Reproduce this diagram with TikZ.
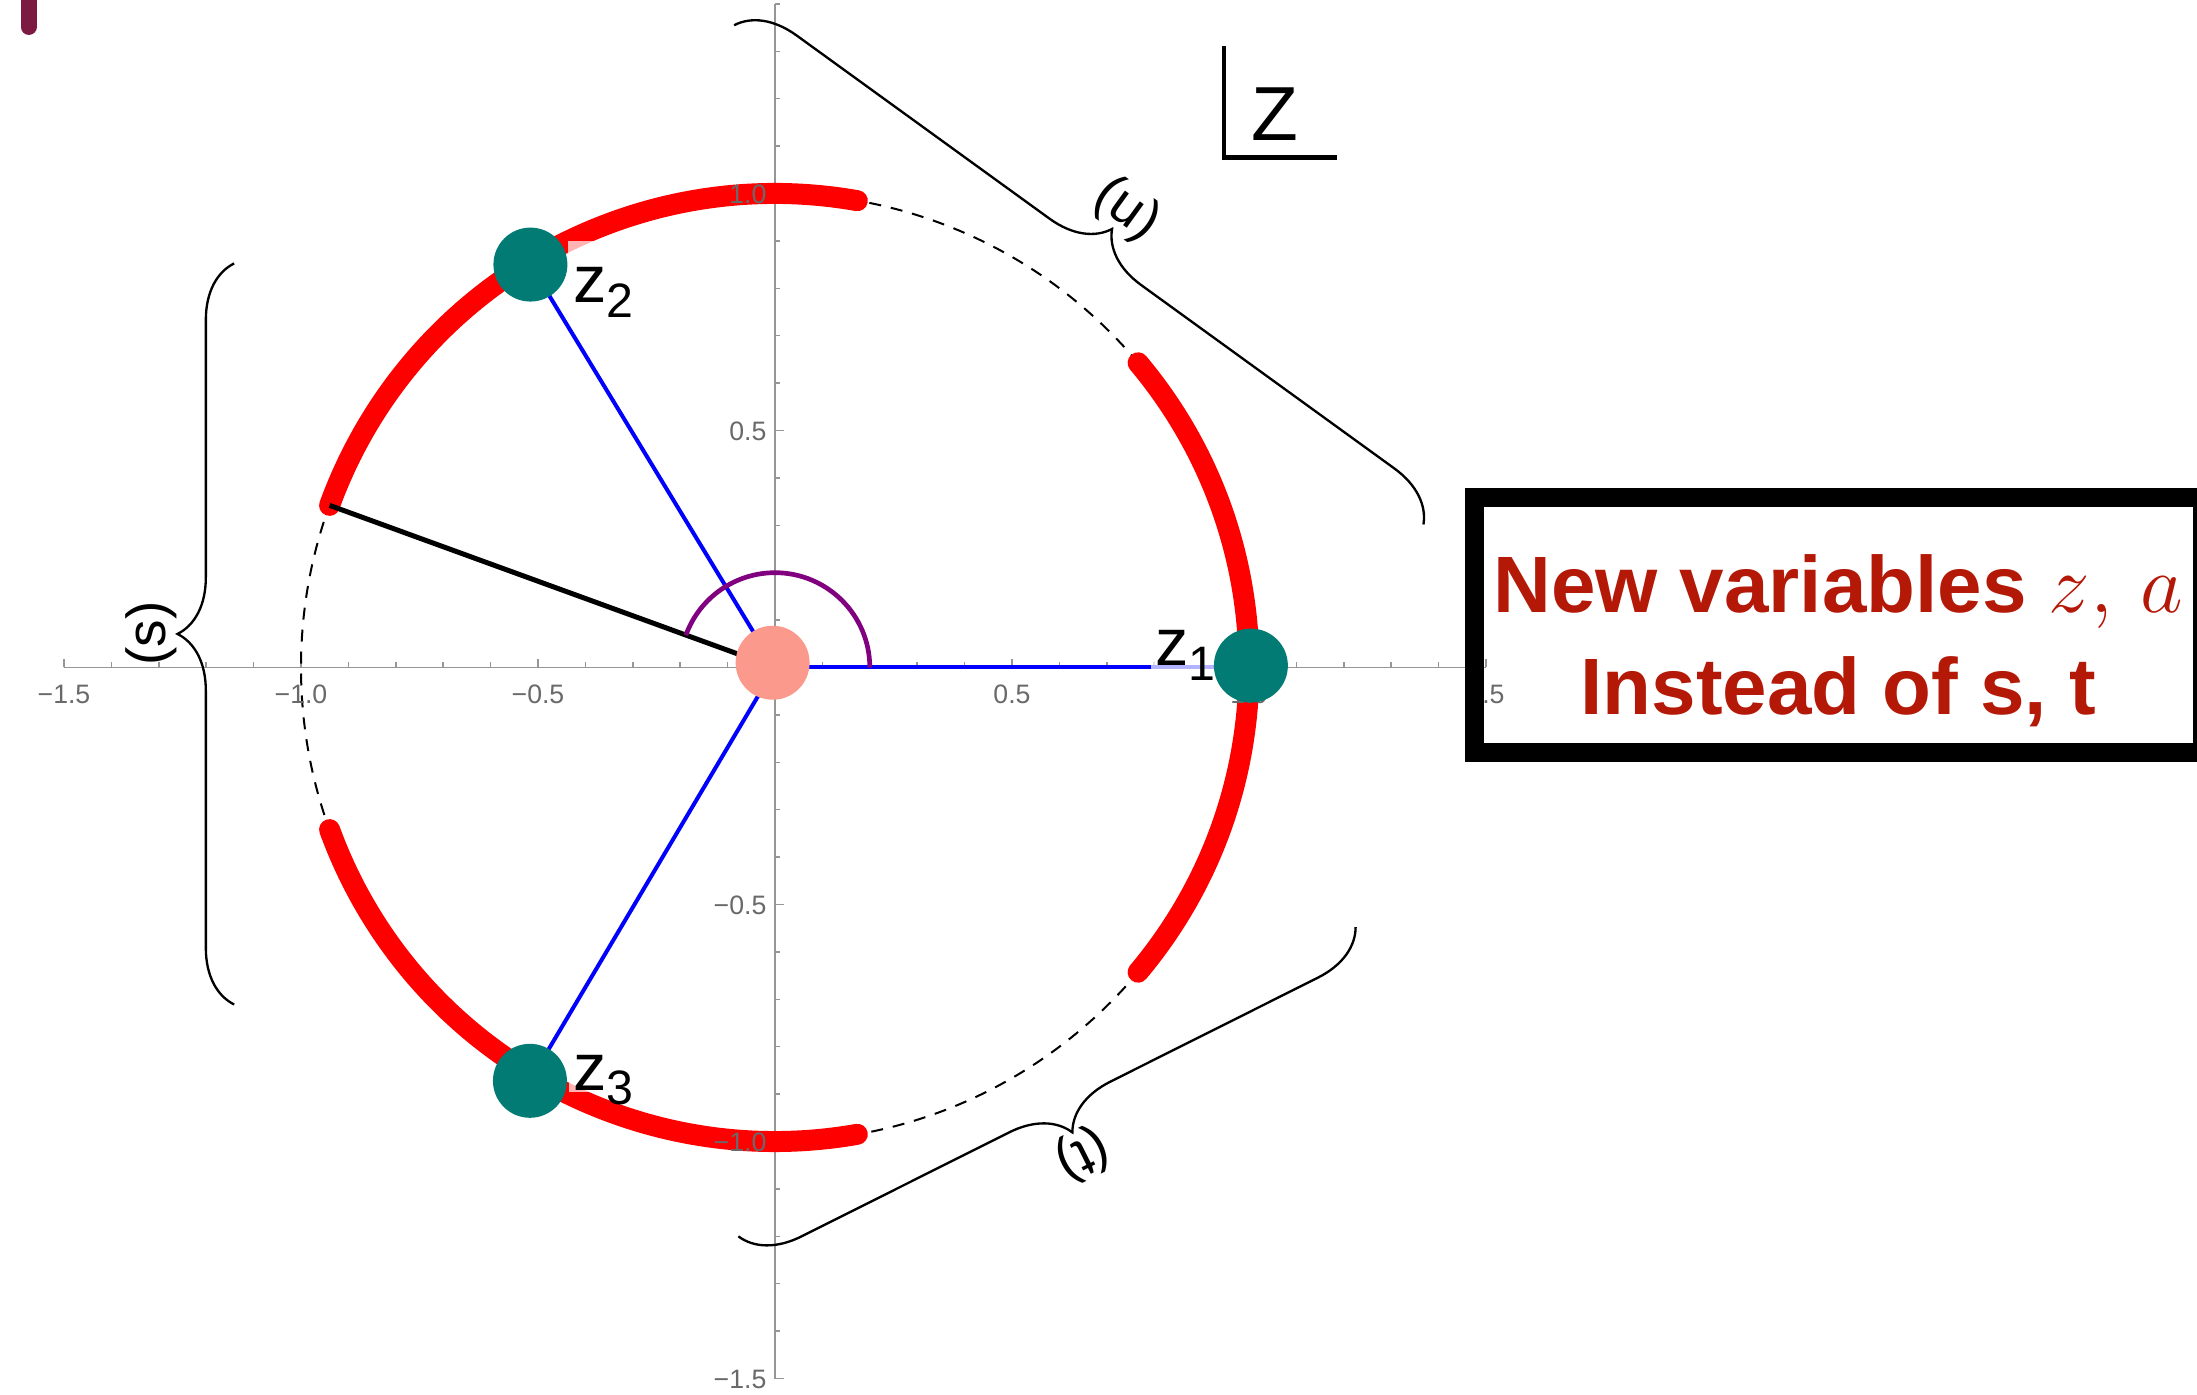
\documentclass[tikz,border=0pt]{standalone}
\usepackage{fontspec}
\setmainfont{Liberation Sans}
\usetikzlibrary{decorations.pathreplacing}
\definecolor{plotred}{RGB}{255,0,0}
\definecolor{tealdot}{RGB}{1,123,115}
\definecolor{pinkdot}{RGB}{251,153,140}
\definecolor{purp}{RGB}{128,0,128}
\definecolor{maroonmark}{RGB}{124,26,66}
\definecolor{boxred}{RGB}{180,25,8}
\definecolor{axisgray}{RGB}{150,150,150}
\definecolor{labgray}{RGB}{105,105,105}
\pgfdeclarelayer{bg}
\pgfdeclarelayer{mid}
\pgfsetlayers{bg,mid,main}
\begin{document}
\begin{tikzpicture}[x=5cm,y=5cm,
  axisline/.style={axisgray, line width=0.55pt},
  tickmark/.style={axisgray, line width=0.45pt},
  ticklab/.style={labgray, inner sep=0pt, font=\fontsize{8}{8}\selectfont},
  redarc/.style={plotred, line width=6.3pt, line cap=round},
  spoke/.style={blue, line width=1.2pt},
  dot/.style={circle, minimum size=22.2pt, inner sep=0pt},
  zlab/.style={anchor=base west, xshift=-1.5pt, fill=white, fill opacity=0.7, text opacity=1, inner xsep=1.5pt, inner ysep=0.5pt, font=\fontsize{20}{20}\selectfont},
  bracedeco/.style={decorate, decoration={brace, amplitude=17pt}, line width=0.7pt},
  bracelab/.style={inner sep=0pt, font=\fontsize{16.5}{16.5}\selectfont},
  boxtext/.style={boxred, inner sep=0pt, anchor=base, font=\fontsize{24}{24}\selectfont\bfseries},
]
\coordinate (BL) at (-1.63502,-1.53481);
\coordinate (TR) at (3.0,1.40823);
\useasboundingbox (BL) rectangle (TR);

% ---- dots (main layer, defined first so lines can refer to them)
\node[dot, fill=pinkdot] (Odot) at (-0.005,0.01) {};
\node[dot, fill=tealdot] (z1dot) at (1.004,0.004) {};
\node[dot, fill=tealdot] (z2dot) at (-0.516,0.850) {};
\node[dot, fill=tealdot] (z3dot) at (-0.517,-0.872) {};
\coordinate (O) at (0,0);
\coordinate (A160) at (160:1);

\begin{pgfonlayer}{bg}
\fill[white] (BL) rectangle (TR);
% axes
\draw[axisline] (-1.5,0) -- (1.5,0);
\draw[axisline] (0,-1.5) -- (0,1.40);
\foreach \i in {-15,...,15} \draw[tickmark] (\i/10,0) -- ++(0pt,1.6pt);
\foreach \x in {-1.5,-1,-0.5,0.5,1,1.5} \draw[tickmark] (\x,0) -- ++(0pt,2.6pt);
\foreach \i in {-15,...,14} \draw[tickmark] (0,\i/10) -- ++(1.6pt,0pt);
\foreach \y in {-1.5,-1,-0.5,0.5,1} \draw[tickmark] (0,\y) -- ++(2.6pt,0pt);
% unit circle
\draw[black, line width=0.6pt, dash pattern=on 3.6pt off 3pt] (O) circle[radius=1];
% red arcs
\draw[redarc] (80:1) arc[start angle=80, end angle=160, radius=1];
\draw[redarc] (-40:1) arc[start angle=-40, end angle=40, radius=1];
\draw[redarc] (200:1) arc[start angle=200, end angle=280, radius=1];
% tick labels (over the arcs, under the dots)
\foreach \x/\t [count=\k] in {-1.5/−1.5,-1/−1.0,-0.5/−0.5,0.5/0.5,1/1.0,1.5/1.5}
  \node[ticklab, anchor=base] (xtick\k) at (\x,-0.076) {\t};
\foreach \y/\t [count=\k] in {-1.5/−1.5,-1/−1.0,-0.5/−0.5,0.5/0.5,1/1.0}
  \node[ticklab, anchor=base east, xshift=-2.4pt, yshift=-2.9pt] (ytick\k) at (0,\y) {\t};
% spokes
\draw[spoke] (O) -- (O -| z1dot.center);
\draw[spoke] (O) -- (z2dot.center);
\draw[spoke] (O) -- (z3dot.center);
\draw[black, line width=1.5pt] (O) -- (A160);
\draw[purp, line width=1.4pt] (0.2,0) arc[start angle=0, end angle=160, radius=0.2];
\end{pgfonlayer}

\begin{pgfonlayer}{mid}
\node[zlab] (z1lab) at (0.8017,0.0032) {\rule{0pt}{18pt}z{\fontsize{14.5}{14.5}\selectfont\raisebox{-4.3pt}{1}}};
\node[zlab] (z2lab) at (-0.4268,0.769) {\rule{0pt}{18pt}z{\fontsize{14.5}{14.5}\selectfont\raisebox{-4.3pt}{2}}};
\node[zlab] (z3lab) at (-0.4262,-0.8914) {\rule{0pt}{18pt}z{\fontsize{14.5}{14.5}\selectfont\raisebox{-4.3pt}[0pt][0pt]{3}}};
\end{pgfonlayer}

% ---- braces
\coordinate (sB) at (-1.141,-0.711);
\coordinate (sT) at (-1.141,0.8525);
\draw[bracedeco] (sB) -- (sT);
\node[bracelab, rotate=90] (slab) at (-1.316,0.072) {(s)};
\coordinate (uA) at (-0.0861,1.355);
\coordinate (uB) at (1.368,0.3017);
\draw[bracedeco] (uA) -- (uB);
\node[bracelab, rotate=-35.9] (ulab) at (0.742,0.965) {(u)};
\coordinate (tA) at (1.2249,-0.5477);
\coordinate (tB) at (-0.0774,-1.2002);
\draw[bracedeco] (tA) -- (tB);
\node[bracelab, rotate=206.6] (tlab) at (0.650,-1.0285) {(t)};

% ---- Z corner label
\node[anchor=base west, inner sep=0pt, font=\fontsize{23}{23}\selectfont] (Zlab) at (1.0036,1.1114) {Z};
\coordinate (Zc1) at (0.947,1.311);
\coordinate (Zc2) at (0.947,1.0764);
\coordinate (Zc3) at (1.185,1.0764);
\draw[line width=1.4pt] (Zc1) -- (Zc2) -- (Zc3);

% ---- text box
\node[draw=black, line width=5.7pt, minimum width=7.6795cm, minimum height=2.6795cm, inner sep=0pt] (box) at (2.24365,0.08965) {};
\node[boxtext] (nv1) at (2.243,0.1165) {New variables $z,\,a$};
\node[boxtext] (nv2) at (2.243,-0.0994) {Instead of s, t};

% ---- maroon mark at top-left corner
\coordinate (M1) at (-1.5745,1.5);
\coordinate (M2) at (-1.5745,1.3513);
\draw[maroonmark, line width=4.8pt, line cap=round] (M1) -- (M2);
\end{tikzpicture}
\end{document}
